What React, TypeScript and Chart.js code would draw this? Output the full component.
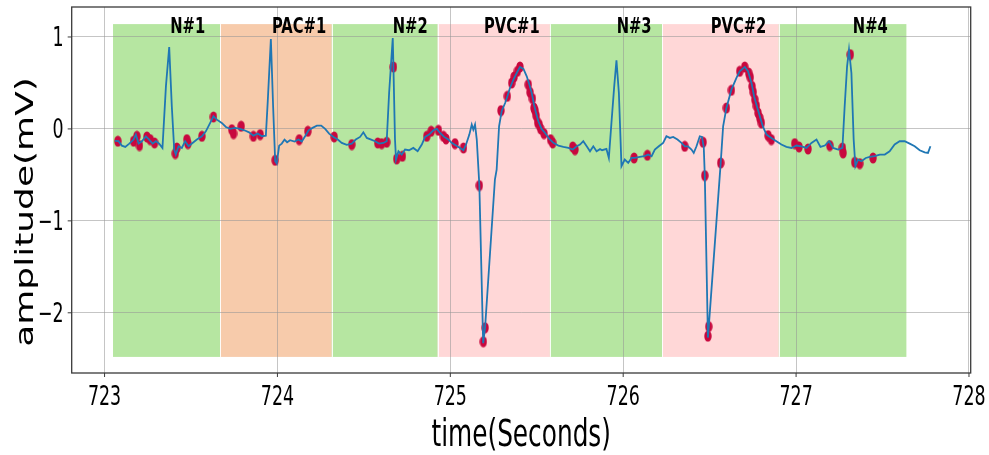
import React, { useEffect, useRef } from "react";
import { Chart, registerables } from "chart.js";
Chart.register(...registerables);

// ---- data ----
const signalTime = [
  723.060, 723.081, 723.100, 723.120, 723.143, 723.168, 723.181, 723.197, 723.216, 723.239,
  723.258, 723.278, 723.297, 723.316, 723.335, 723.355, 723.374, 723.389, 723.403, 723.412,
  723.428, 723.447, 723.466, 723.486, 723.509, 723.534, 723.563, 723.586, 723.611, 723.630,
  723.650, 723.678, 723.702, 723.727, 723.755, 723.784, 723.809, 723.836, 723.861, 723.886,
  723.910, 723.933, 723.944, 723.962, 723.975, 723.987, 723.996, 724.010, 724.025, 724.041,
  724.056, 724.073, 724.099, 724.122, 724.141, 724.160, 724.180, 724.203, 724.228, 724.253,
  724.276, 724.299, 724.324, 724.349, 724.372, 724.401, 724.430, 724.453, 724.478, 724.497,
  724.517, 724.542, 724.565, 724.588, 724.613, 724.632, 724.646, 724.667, 724.671, 724.680,
  724.686, 724.700, 724.719, 724.738, 724.761, 724.786, 724.811, 724.835, 724.854, 724.877,
  724.902, 724.922, 724.941, 724.964, 724.989, 725.008, 725.033, 725.056, 725.076, 725.091,
  725.110, 725.124, 725.133, 725.143, 725.153, 725.168, 725.190, 725.201, 725.258, 725.268,
  725.282, 725.297, 725.317, 725.330, 725.345, 725.365, 725.384, 725.403, 725.423, 725.442,
  725.457, 725.471, 725.484, 725.496, 725.509, 725.528, 725.548, 725.573, 725.596, 725.625,
  725.654, 725.683, 725.708, 725.731, 725.750, 725.769, 725.789, 725.808, 725.827, 725.846,
  725.866, 725.878, 725.903, 725.917, 725.932, 725.948, 725.961, 725.975, 725.990, 726.009,
  726.029, 726.048, 726.067, 726.096, 726.121, 726.144, 726.164, 726.183, 726.206, 726.231,
  726.250, 726.270, 726.289, 726.314, 726.337, 726.356, 726.375, 726.395, 726.408, 726.424,
  726.443, 726.456, 726.466, 726.472, 726.490, 726.495, 726.564, 726.578, 726.597, 726.626,
  726.655, 726.674, 726.703, 726.722, 726.742, 726.757, 726.776, 726.796, 726.809, 726.829,
  726.857, 726.886, 726.915, 726.944, 726.973, 727.002, 727.031, 727.060, 727.089, 727.118,
  727.141, 727.166, 727.191, 727.214, 727.243, 727.268, 727.281, 727.295, 727.306, 727.320,
  727.333, 727.343, 727.358, 727.378, 727.403, 727.426, 727.455, 727.484, 727.513, 727.541,
  727.570, 727.599, 727.628, 727.657, 727.686, 727.715, 727.744, 727.763, 727.777,
];
const signalAmp = [
  -0.130, -0.134, -0.182, -0.196, -0.160, -0.116, -0.062, -0.160, -0.134, -0.080,
  -0.116, -0.160, -0.134, -0.160, -0.207, 0.463, 0.891, 0.246, -0.225, -0.279,
  -0.189, -0.207, -0.134, -0.189, -0.153, -0.116, -0.080, -0.026, 0.065, 0.137,
  0.101, 0.065, 0.021, 0.000, 0.010, 0.000, -0.015, -0.037, -0.073, -0.051,
  -0.080, -0.073, 0.300, 0.978, 0.246, -0.352, -0.377, -0.182, -0.160, -0.116,
  -0.145, -0.123, -0.138, -0.116, -0.138, -0.080, -0.015, 0.011, 0.036, 0.036,
  0.000, -0.051, -0.087, -0.116, -0.152, -0.174, -0.160, -0.116, -0.087, -0.037,
  -0.098, -0.116, -0.134, -0.160, -0.153, -0.134, 0.391, 0.989, 0.674, -0.116,
  -0.334, -0.243, -0.279, -0.225, -0.232, -0.207, -0.243, -0.170, -0.087, -0.062,
  -0.015, 0.000, -0.044, -0.087, -0.116, -0.152, -0.181, -0.207, -0.232, -0.170,
  -0.062, 0.047, -0.008, 0.047, -0.116, -0.616, -2.330, -2.163, -0.551, -0.442,
  0.029, 0.192, 0.282, 0.355, 0.445, 0.536, 0.608, 0.674, 0.652, 0.572,
  0.482, 0.391, 0.264, 0.174, 0.083, 0.000, -0.044, -0.109, -0.152, -0.181,
  -0.196, -0.207, -0.225, -0.189, -0.170, -0.134, -0.189, -0.243, -0.189, -0.243,
  -0.220, -0.232, -0.218, -0.316, 0.065, 0.463, 0.746, 0.391, -0.406, -0.334,
  -0.370, -0.316, -0.316, -0.305, -0.297, -0.279, -0.297, -0.225, -0.189, -0.152,
  -0.080, -0.098, -0.087, -0.116, -0.152, -0.189, -0.189, -0.225, -0.261, -0.189,
  -0.080, -0.087, -0.200, -0.508, -2.270, -2.150, -0.370, 0.029, 0.228, 0.427,
  0.554, 0.627, 0.674, 0.627, 0.500, 0.355, 0.228, 0.101, 0.021, -0.062,
  -0.098, -0.134, -0.170, -0.196, -0.207, -0.181, -0.189, -0.207, -0.152, -0.116,
  -0.196, -0.181, -0.134, -0.207, -0.225, -0.207, 0.246, 0.681, 0.862, 0.608,
  -0.116, -0.406, -0.334, -0.352, -0.316, -0.305, -0.297, -0.279, -0.279, -0.243,
  -0.170, -0.134, -0.134, -0.160, -0.189, -0.232, -0.254, -0.261, -0.189,
];

const markerTime = [
  723.077, 723.168, 723.187, 723.202, 723.245, 723.264, 723.289, 723.409, 723.418, 723.476,
  723.482, 723.563, 723.630, 723.736, 723.746, 723.790, 723.861, 723.900, 723.987, 724.126,
  724.176, 724.328, 724.430, 724.580, 724.603, 724.632, 724.671, 724.690, 724.723, 724.864,
  724.889, 724.931, 724.960, 724.975, 725.027, 725.076, 725.168, 725.191, 725.201, 725.293,
  725.330, 725.355, 725.369, 725.388, 725.403, 725.451, 725.461, 725.475, 725.484, 725.490,
  725.496, 725.505, 725.515, 725.523, 725.542, 725.580, 725.592, 725.708, 725.721, 726.063,
  726.140, 726.356, 726.462, 726.472, 726.490, 726.495, 726.564, 726.597, 726.626, 726.674,
  726.703, 726.726, 726.735, 726.745, 726.752, 726.761, 726.770, 726.780, 726.790, 726.799,
  726.838, 726.857, 726.992, 727.017, 727.069, 727.195, 727.268, 727.272, 727.314, 727.339,
  727.368, 727.445,
];
const markerAmp = [
  -0.134, -0.134, -0.080, -0.181, -0.087, -0.116, -0.152, -0.268, -0.207, -0.116,
  -0.160, -0.080, 0.130, -0.008, -0.051, 0.029, -0.080, -0.062, -0.341, -0.116,
  -0.026, -0.087, -0.170, -0.152, -0.160, -0.145, 0.674, -0.326, -0.297, -0.080,
  -0.026, -0.015, -0.080, -0.109, -0.160, -0.207, -0.616, -2.315, -2.163, 0.199,
  0.355, 0.500, 0.565, 0.627, 0.674, 0.482, 0.398, 0.330, 0.228, 0.200,
  0.145, 0.072, 0.040, 0.000, -0.051, -0.116, -0.152, -0.196, -0.225, -0.316,
  -0.286, -0.189, -0.145, -0.508, -2.254, -2.150, -0.370, 0.228, 0.420, 0.627,
  0.674, 0.608, 0.560, 0.463, 0.400, 0.319, 0.250, 0.174, 0.120, 0.065,
  -0.073, -0.116, -0.160, -0.196, -0.218, -0.181, -0.207, -0.261, 0.808, -0.363,
  -0.377, -0.316,
];

const regionStart = [723.049, 723.669, 724.314, 724.927, 725.576, 726.226, 726.900];
const regionEnd = [723.669, 724.314, 724.927, 725.576, 726.226, 726.900, 727.638];
const regionType = ["N", "PAC", "N", "PVC", "N", "PVC", "N"];
const regionLabel = ["N#1", "PAC#1", "N#2", "PVC#1", "N#3", "PVC#2", "N#4"];
const labelTime = [723.380, 723.968, 724.667, 725.195, 725.962, 726.506, 727.328];
const regionTop = 1.14;
const regionBottom = -2.48;
const labelLevel = 1.045;

const xTicks = [723, 724, 725, 726, 727, 728];
const yTicks = [-2, -1, 0, 1];
const xTitle = "time(Seconds)";
const yTitle = "amplitude(mV)";

// ---- styles ----
const typeColor: Record<string, string> = { N: "#b6e6a1", PAC: "#f7cbab", PVC: "#ffd7d7" };
const SX = 0.67; // horizontal squeeze of the original figure's text
const FONT = "'DejaVu Sans', 'Liberation Sans', sans-serif";
const FRAME = "#3a3a3a";

function squeezedText(
  ctx: CanvasRenderingContext2D, text: string, x: number, y: number,
  font: string, align: CanvasTextAlign, baseline: CanvasTextBaseline, rotate = false
) {
  ctx.save();
  ctx.translate(x, y);
  ctx.scale(SX, 1);
  if (rotate) ctx.rotate(-Math.PI / 2);
  ctx.font = font;
  ctx.fillStyle = "#000";
  ctx.textAlign = align;
  ctx.textBaseline = baseline;
  ctx.fillText(text, 0, 0);
  ctx.restore();
}

function makeEllipse(): HTMLCanvasElement {
  const c = document.createElement("canvas");
  c.width = 8;
  c.height = 12;
  const g = c.getContext("2d")!;
  g.fillStyle = "rgb(200,8,62)";
  g.beginPath();
  g.ellipse(4, 6, 3.7, 5.6, 0, 0, Math.PI * 2);
  g.fill();
  return c;
}

const regionsPlugin = {
  id: "regions",
  beforeDraw(chart: any) {
    const { ctx, scales } = chart;
    const xs = scales.x, ys = scales.y;
    const top = ys.getPixelForValue(regionTop);
    const bot = ys.getPixelForValue(regionBottom);
    ctx.save();
    regionStart.forEach((s, i) => {
      const x0 = xs.getPixelForValue(s);
      const x1 = xs.getPixelForValue(regionEnd[i]);
      ctx.fillStyle = typeColor[regionType[i]];
      ctx.fillRect(x0, top, x1 - x0, bot - top);
    });
    ctx.strokeStyle = "rgba(255,255,255,0.9)";
    ctx.lineWidth = 1;
    regionStart.slice(1).forEach((s) => {
      const x = Math.round(xs.getPixelForValue(s)) + 0.5;
      ctx.beginPath();
      ctx.moveTo(x, top);
      ctx.lineTo(x, bot);
      ctx.stroke();
    });
    ctx.restore();
  },
  afterDraw(chart: any) {
    const { ctx, scales, chartArea } = chart;
    const xs = scales.x, ys = scales.y;
    // region labels
    regionLabel.forEach((lab, i) => {
      squeezedText(ctx, lab, xs.getPixelForValue(labelTime[i]), ys.getPixelForValue(labelLevel),
        `bold 22px ${FONT}`, "left", "alphabetic");
    });
    // frame
    ctx.save();
    ctx.strokeStyle = FRAME;
    ctx.lineWidth = 1.3;
    ctx.strokeRect(chartArea.left, chartArea.top, chartArea.right - chartArea.left, chartArea.bottom - chartArea.top);
    // tick marks
    ctx.lineWidth = 1;
    xTicks.forEach((v) => {
      const x = xs.getPixelForValue(v);
      ctx.beginPath();
      ctx.moveTo(x, chartArea.bottom);
      ctx.lineTo(x, chartArea.bottom + 4);
      ctx.stroke();
    });
    yTicks.forEach((v) => {
      const y = ys.getPixelForValue(v);
      ctx.beginPath();
      ctx.moveTo(chartArea.left, y);
      ctx.lineTo(chartArea.left - 4, y);
      ctx.stroke();
    });
    ctx.restore();
    // tick labels
    xTicks.forEach((v) => {
      squeezedText(ctx, String(v), xs.getPixelForValue(v), chartArea.bottom + 32,
        `26px ${FONT}`, "center", "alphabetic");
    });
    yTicks.forEach((v) => {
      const s = v < 0 ? "\u2212" + Math.abs(v) : String(v);
      squeezedText(ctx, s, chartArea.left - 8, ys.getPixelForValue(v) + 9.5,
        `26px ${FONT}`, "right", "alphabetic");
    });
    // axis titles
    squeezedText(ctx, xTitle, (chartArea.left + chartArea.right) / 2, chartArea.bottom + 73,
      `37px ${FONT}`, "center", "alphabetic");
    squeezedText(ctx, yTitle, 33, 212, `36px ${FONT}`, "center", "alphabetic", true);
  },
};

export default function App() {
  const ref = useRef<HTMLCanvasElement>(null);
  useEffect(() => {
    const canvas = ref.current!;
    const ellipse = makeEllipse();
    const chart = new Chart(canvas, {
      type: "scatter",
      data: {
        datasets: [
          {
            label: "signal",
            data: signalTime.map((t, i) => ({ x: t, y: signalAmp[i] })),
            showLine: true,
            borderColor: "#1f77b4",
            backgroundColor: "#1f77b4",
            borderWidth: 1.8,
            pointRadius: 0,
            tension: 0,
            order: 0,
          },
          {
            label: "markers",
            data: markerTime.map((t, i) => ({ x: t, y: markerAmp[i] })),
            showLine: false,
            pointStyle: ellipse as any,
            pointRadius: 5,
            backgroundColor: "rgb(200,8,62)",
            borderWidth: 0,
            order: 1,
          },
        ],
      },
      options: {
        responsive: false,
        animation: false,
        events: [],
        layout: { padding: { left: 71.7, right: 18.3, top: 7, bottom: 82 } },
        plugins: { legend: { display: false }, tooltip: { enabled: false } },
        scales: {
          x: {
            type: "linear",
            min: 722.81,
            max: 728.01,
            afterBuildTicks: (axis: any) => { axis.ticks = xTicks.map((v) => ({ value: v })); },
            ticks: { display: false },
            grid: { color: "rgba(150,150,150,0.55)", lineWidth: 1, drawTicks: false },
            border: { display: false },
          },
          y: {
            type: "linear",
            min: -2.655,
            max: 1.326,
            afterBuildTicks: (axis: any) => { axis.ticks = yTicks.map((v) => ({ value: v })); },
            ticks: { display: false },
            grid: { color: "rgba(150,150,150,0.55)", lineWidth: 1, drawTicks: false },
            border: { display: false },
          },
        },
      },
      plugins: [regionsPlugin],
    });
    return () => chart.destroy();
  }, []);
  return (
    <div style={{ position: "absolute", left: 0, top: 0, width: 989, height: 455, background: "#fff" }}>
      <canvas ref={ref} width={989} height={455} style={{ display: "block", width: 989, height: 455 }} />
    </div>
  );
}
